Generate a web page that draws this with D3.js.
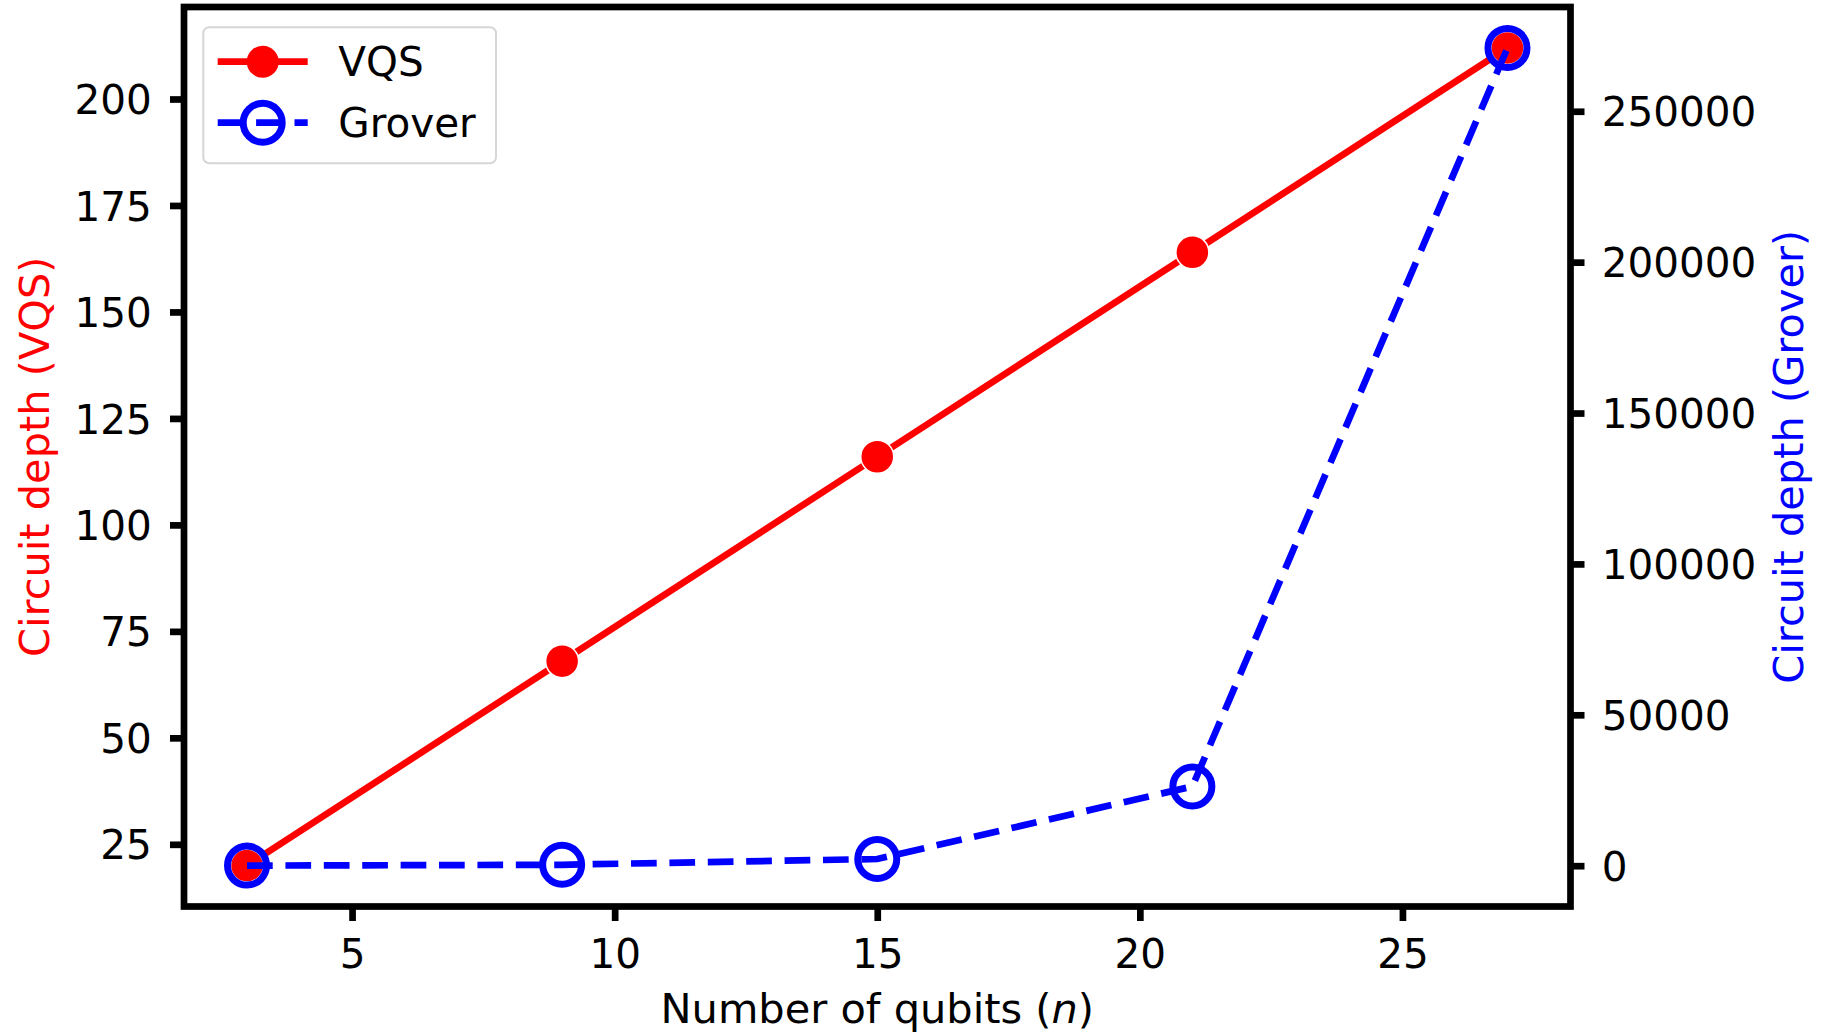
<!DOCTYPE html>
<html>
<head>
<meta charset="utf-8">
<script src="https://cdn.jsdelivr.net/npm/d3@7"></script>
<style>
  html, body { margin: 0; padding: 0; background: #fff; }
  svg { display: block; }
  text { font-family: "DejaVu Sans", sans-serif; }
</style>
</head>
<body>
<div id="chart"></div>
<script>
// chart values
var qubits = [3, 9, 15, 21, 27];
var vqs_depth = [20, 68, 116, 164, 212];
var grover_depth = [25, 300, 2220, 26260, 271000];

var x_ticks = [5, 10, 15, 20, 25];
var left_ticks = [25, 50, 75, 100, 125, 150, 175, 200];
var right_ticks = [0, 50000, 100000, 150000, 200000, 250000];

var x_label = "Number of qubits (",
    left_label = "Circuit depth (VQS)",
    right_label = "Circuit depth (Grover)";

// layout (note: "top" is a reserved window global, so use plot_* names)
var width = 1826,
    height = 1033,
    plot_left = 184,
    plot_right = 1570.5,
    plot_top = 7,
    plot_bottom = 906.5,
    font_size = 40.5,
    label_size = 41.5,
    spine_w = 6.7,
    line_w = 6.7;

// matplotlib style 5% margin on the data range
function padded(arr) {
    var lo = d3.min(arr), hi = d3.max(arr), r = hi - lo;
    return [lo - 0.05 * r, hi + 0.05 * r];
}

var x = d3.scaleLinear().domain(padded(qubits)).range([plot_left, plot_right]);
var y1 = d3.scaleLinear().domain(padded(vqs_depth)).range([plot_bottom, plot_top]);
var y2 = d3.scaleLinear().domain(padded(grover_depth)).range([plot_bottom, plot_top]);

var svg = d3.select("#chart")
  .append("svg")
    .attr("width", width)
    .attr("height", height);

svg.append("rect").attr("width", width).attr("height", height).attr("fill", "#fff");

var vqs_data = qubits.map(function(d, i) { return {x: d, y: vqs_depth[i]}; });
var grover_data = qubits.map(function(d, i) { return {x: d, y: grover_depth[i]}; });

// VQS: solid red with filled markers
svg.append("path")
    .datum(vqs_data)
    .attr("fill", "none")
    .attr("stroke", "#ff0000")
    .attr("stroke-width", line_w)
    .attr("d", d3.line().x(function(d) { return x(d.x); }).y(function(d) { return y1(d.y); }));

svg.selectAll("circle.vqs")
    .data(vqs_data)
    .enter()
    .append("circle")
    .attr("class", "vqs")
    .attr("cx", function(d) { return x(d.x); })
    .attr("cy", function(d) { return y1(d.y); })
    .attr("r", 16.5)
    .attr("fill", "#ff0000")
    .attr("stroke", "#fff")
    .attr("stroke-width", 1.5);

// Grover: dashed blue with open markers (twin axis, drawn on top)
svg.append("path")
    .datum(grover_data)
    .attr("fill", "none")
    .attr("stroke", "#0000ff")
    .attr("stroke-width", line_w)
    .attr("stroke-dasharray", "25.7,12.7")
    .attr("d", d3.line().x(function(d) { return x(d.x); }).y(function(d) { return y2(d.y); }));

svg.selectAll("circle.grover")
    .data(grover_data)
    .enter()
    .append("circle")
    .attr("class", "grover")
    .attr("cx", function(d) { return x(d.x); })
    .attr("cy", function(d) { return y2(d.y); })
    .attr("r", 19.5)
    .attr("fill", "none")
    .attr("stroke", "#0000ff")
    .attr("stroke-width", 7);

// axes
function style_axis(g) {
    g.select(".domain").remove();
    g.selectAll(".tick line").attr("stroke", "#000").attr("stroke-width", spine_w);
    g.selectAll(".tick text")
        .attr("fill", "#000")
        .attr("font-size", font_size)
        .attr("font-family", "DejaVu Sans, sans-serif");
}

svg.append("g")
    .attr("transform", "translate(0," + plot_bottom + ")")
    .call(d3.axisBottom(x).tickValues(x_ticks).tickSize(14.5).tickPadding(18.5).tickFormat(d3.format("d")))
    .call(style_axis);

svg.append("g")
    .attr("transform", "translate(" + plot_left + ",0)")
    .call(d3.axisLeft(y1).tickValues(left_ticks).tickSize(14).tickPadding(18.3).tickFormat(d3.format("d")))
    .call(style_axis)
    .selectAll(".tick text").attr("dy", "0.36em");

svg.append("g")
    .attr("transform", "translate(" + plot_right + ",0)")
    .call(d3.axisRight(y2).tickValues(right_ticks).tickSize(14).tickPadding(17.2).tickFormat(d3.format("d")))
    .call(style_axis)
    .selectAll(".tick text").attr("dy", "0.36em");

// frame
svg.append("rect")
    .attr("x", plot_left).attr("y", plot_top)
    .attr("width", plot_right - plot_left).attr("height", plot_bottom - plot_top)
    .attr("fill", "none")
    .attr("stroke", "#000")
    .attr("stroke-width", spine_w);

// axis labels
var xl = svg.append("text")
    .attr("x", (plot_left + plot_right) / 2)
    .attr("y", 1023)
    .attr("text-anchor", "middle")
    .attr("font-size", label_size)
    .attr("fill", "#000");
xl.append("tspan").text(x_label);
xl.append("tspan").attr("font-style", "italic").text("n");
xl.append("tspan").text(")");

svg.append("text")
    .attr("transform", "translate(48.5," + (plot_top + plot_bottom) / 2 + ") rotate(-90)")
    .attr("text-anchor", "middle")
    .attr("font-size", label_size)
    .attr("fill", "#ff0000")
    .text(left_label);

svg.append("text")
    .attr("transform", "translate(1803," + (plot_top + plot_bottom) / 2 + ") rotate(-90)")
    .attr("text-anchor", "middle")
    .attr("font-size", label_size)
    .attr("fill", "#0000ff")
    .text(right_label);

// legend
var legend = svg.append("g");
legend.append("rect")
    .attr("x", 203.3).attr("y", 27.3)
    .attr("width", 292.7).attr("height", 136)
    .attr("rx", 6).attr("ry", 6)
    .attr("fill", "#fff")
    .attr("fill-opacity", 0.8)
    .attr("stroke", "#d6d6d6")
    .attr("stroke-width", 2);

var rows = [
    {name: "VQS", color: "#ff0000", dash: null, filled: true},
    {name: "Grover", color: "#0000ff", dash: "25.7,12.7", filled: false}
];
rows.forEach(function(r, i) {
    var cy = 61.7 + i * 61;
    legend.append("line")
        .attr("x1", 217.7).attr("x2", 307.7)
        .attr("y1", cy).attr("y2", cy)
        .attr("stroke", r.color)
        .attr("stroke-width", line_w)
        .attr("stroke-dasharray", r.dash);
    if (r.filled) {
        legend.append("circle").attr("cx", 262.7).attr("cy", cy).attr("r", 16)
            .attr("fill", r.color);
    } else {
        legend.append("circle").attr("cx", 262.7).attr("cy", cy).attr("r", 19.5)
            .attr("fill", "none").attr("stroke", r.color).attr("stroke-width", 7);
    }
    legend.append("text")
        .attr("x", 338.3)
        .attr("y", cy + 14.6)
        .attr("font-size", font_size)
        .attr("fill", "#000")
        .text(r.name);
});
</script>
</body>
</html>
